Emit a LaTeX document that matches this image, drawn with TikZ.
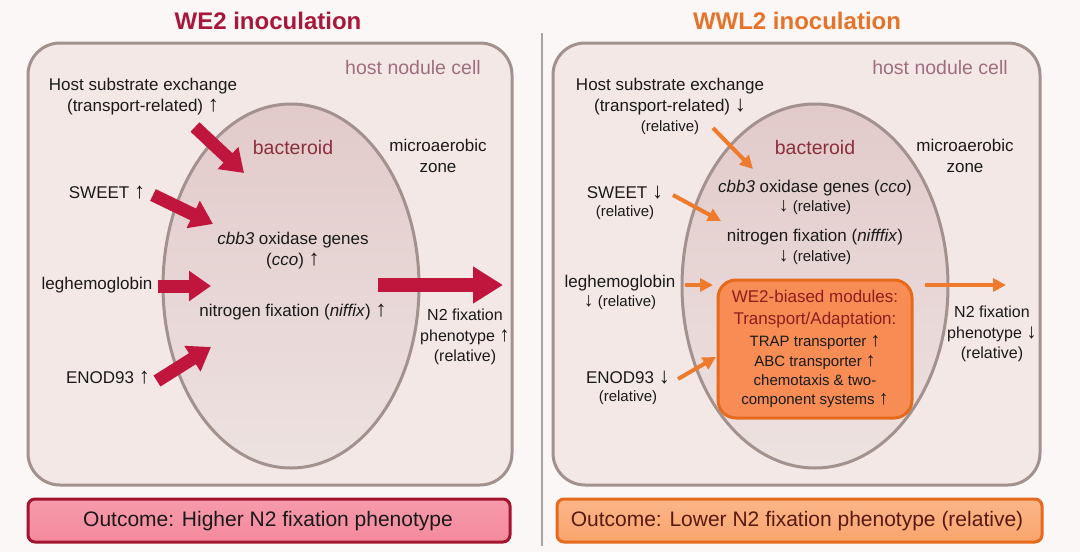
\documentclass[tikz,border=0pt]{standalone}
\usepackage{fontspec}
\setmainfont{Liberation Sans}
\newfontfamily\arrfont[Scale=1.3]{Liberation Sans}
\newcommand{\uarr}{{\arrfont ↑}}
\newcommand{\darr}{{\arrfont ↓}}
\usetikzlibrary{arrows.meta}
\definecolor{bgcol}{HTML}{FAF7F6}
\definecolor{cellfill}{HTML}{F3E8E6}
\definecolor{cellbord}{HTML}{A3918D}
\definecolor{bacttop}{HTML}{E2CACA}
\definecolor{bactbot}{HTML}{EDE2E1}
\definecolor{wered}{HTML}{A8183A}
\definecolor{arrred}{HTML}{C0163E}
\definecolor{ortitle}{HTML}{E5742A}
\definecolor{orarr}{HTML}{EE7A2C}
\definecolor{orfill}{HTML}{F78D55}
\definecolor{orbord}{HTML}{E66A1C}
\definecolor{orlight}{HTML}{F9A46C}
\definecolor{pinkfill}{HTML}{F4899C}
\definecolor{pinkbord}{HTML}{A3142F}
\definecolor{ink}{HTML}{1A1A1A}
\definecolor{bactcol}{HTML}{8B2F3C}
\definecolor{hostcol}{HTML}{9E6E80}
\definecolor{modcol}{HTML}{8E1E1E}
\definecolor{outbrown}{HTML}{5A1A14}
\definecolor{divcol}{HTML}{A8A4A4}
\begin{document}
\begin{tikzpicture}[x=1pt,y=-1pt,
  txt/.style={font=\fontsize{17}{21}\selectfont, text=ink, align=center, inner sep=0pt},
  reltxt/.style={font=\fontsize{15}{20}\selectfont, text=ink, align=center, inner sep=0pt},
  ntxt/.style={font=\fontsize{16}{20.5}\selectfont, text=ink, align=center, inner sep=0pt},
  itemtxt/.style={font=\fontsize{15}{19.3}\selectfont, text=ink, align=center, inner sep=0pt},
  headtxt/.style={font=\fontsize{17}{22}\selectfont, text=modcol, align=center, inner sep=0pt},
  bactlabel/.style={font=\fontsize{19.5}{23}\selectfont, text=bactcol, inner sep=0pt},
  hostlabel/.style={font=\fontsize{19.5}{23}\selectfont, text=hostcol, inner sep=0pt},
  titletxt/.style={font=\bfseries\fontsize{24}{28}\selectfont, inner sep=0pt},
  outtxt/.style={font=\fontsize{21}{25}\selectfont, inner sep=0pt},
  cellbox/.style={fill=cellfill, draw=cellbord, line width=3pt, rounded corners=32pt},
  bactshape/.style={top color=bacttop, bottom color=bactbot, draw=cellbord, line width=3pt},
  redarrow/.style={draw=arrred, line width=13pt, -{Triangle[length=22pt,width=29pt]}},
  bigredarrow/.style={draw=arrred, line width=14pt, -{Triangle[length=30pt,width=35pt]}},
  orarrow/.style={draw=orarr, line width=4pt, -{Triangle[length=13pt,width=13pt]}}
]
\useasboundingbox (0,0) rectangle (1080,552);
\fill[bgcol] (0,0) rectangle (1080,552);

% divider
\coordinate (divtop) at (542,33);
\coordinate (divbot) at (542,546);
\draw[divcol, line width=1.2pt] (divtop) -- (divbot);

% ================= LEFT =================
\node[titletxt, text=wered] (titleL) at (268,21) {WE2 inoculation};
\draw[cellbox] (28,43) rectangle (512,485);
\node[hostlabel] (hostL) at (413,68) {host nodule cell};
\path[bactshape] (291,286) ellipse [x radius=128pt, y radius=182pt];
\node[bactlabel] (bactL) at (293,148) {bacteroid};
\node[txt] (microL) at (438,156) {microaerobic\\zone};

\node[txt] (hseL) at (143,97) {Host substrate exchange\\(transport-related) \uarr};
\node[txt] (sweetL) at (107,193) {SWEET \uarr};
\node[txt] (legL) at (97,285) {leghemoglobin};
\node[txt] (enodL) at (108,378) {ENOD93 \uarr};

\node[txt] (ccoL) at (293,251) {\textit{cbb3} oxidase genes\\(\textit{cco}) \uarr};
\node[txt] (nifL) at (293,312) {nitrogen fixation (\textit{niffix}) \uarr};
\node[ntxt] (n2L) at (465,337) {N2 fixation\\phenotype \uarr\\(relative)};

\coordinate (a1s) at (195,127);  \coordinate (a1e) at (244,173);
\coordinate (a2s) at (153,195);  \coordinate (a2e) at (213,224);
\coordinate (a3s) at (158,286);  \coordinate (a3e) at (211,286);
\coordinate (a4s) at (157,381);  \coordinate (a4e) at (211,347);
\coordinate (a5s) at (378,285);  \coordinate (a5e) at (503,285);
\draw[redarrow] (a1s) -- (a1e);
\draw[redarrow] (a2s) -- (a2e);
\draw[redarrow] (a3s) -- (a3e);
\draw[redarrow] (a4s) -- (a4e);
\draw[bigredarrow] (a5s) -- (a5e);

\draw[top color=pinkfill!85!white, bottom color=pinkfill, draw=pinkbord, line width=3pt, rounded corners=7pt] (28,499) rectangle (510,542);
\node[outtxt, text=ink] (outL) at (268,521) {Outcome: Higher N2 fixation phenotype};

% ================= RIGHT =================
\node[titletxt, text=ortitle] (titleR) at (797,21) {WWL2 inoculation};
\draw[cellbox] (553,43) rectangle (1040,485);
\node[hostlabel] (hostR) at (940,68) {host nodule cell};
\path[bactshape] (815,286) ellipse [x radius=133pt, y radius=182pt];
\node[bactlabel] (bactR) at (815,148) {bacteroid};
\node[txt] (microR) at (965,156) {microaerobic\\zone};

\node[txt] (hseR) at (670,97) {Host substrate exchange\\(transport-related) \darr};
\node[reltxt] (hseRr) at (670,128) {(relative)};
\node[txt] (sweetR) at (625,193) {SWEET \darr};
\node[reltxt] (sweetRr) at (625,213) {(relative)};
\node[txt] (legR) at (620,283) {leghemoglobin};
\node[reltxt] (legRr) at (620,303) {\darr\ (relative)};
\node[txt] (enodR) at (628,378) {ENOD93 \darr};
\node[reltxt] (enodRr) at (628,398) {(relative)};

\node[txt] (ccoR) at (815,188) {\textit{cbb3} oxidase genes (\textit{cco})};
\node[reltxt] (ccoRr) at (815,208) {\darr\ (relative)};
\node[txt] (nifR) at (815,237) {nitrogen fixation (\textit{nifffix})};
\node[reltxt] (nifRr) at (815,258) {\darr\ (relative)};

\node[fill=orfill, draw=orbord, line width=3pt, rounded corners=18pt, minimum width=194pt, minimum height=138pt, inner sep=0pt] (modbox) at (815,349) {};
\node[headtxt] (modhead) at (815,309) {WE2-biased modules:\\Transport/Adaptation:};
\node[itemtxt] (moditems) at (815,372) {TRAP transporter \uarr\\ABC transporter \uarr\\chemotaxis \& two-\\component systems \uarr};

\node[ntxt] (n2R) at (992,334) {N2 fixation\\phenotype \darr\\(relative)};

\coordinate (b1s) at (713,128);  \coordinate (b1e) at (753,169);
\coordinate (b2s) at (673,195);  \coordinate (b2e) at (721,221);
\coordinate (b3s) at (685,285);  \coordinate (b3e) at (713,285);
\coordinate (b4s) at (678,379);  \coordinate (b4e) at (716,357);
\coordinate (b5s) at (925,285);  \coordinate (b5e) at (1006,285);
\draw[orarrow] (b1s) -- (b1e);
\draw[orarrow] (b2s) -- (b2e);
\draw[orarrow] (b3s) -- (b3e);
\draw[orarrow] (b4s) -- (b4e);
\draw[orarrow] (b5s) -- (b5e);

\draw[top color=orlight!80!white, bottom color=orlight, draw=orbord, line width=3pt, rounded corners=7pt] (557,499) rectangle (1042,542);
\node[outtxt, text=outbrown] (outR) at (797,521) {Outcome: Lower N2 fixation phenotype (relative)};
\end{tikzpicture}
\end{document}
